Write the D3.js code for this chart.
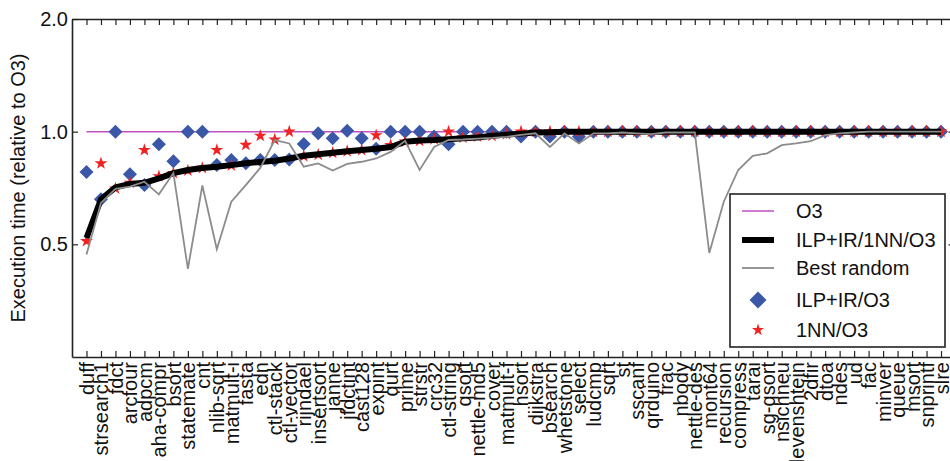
<!DOCTYPE html>
<html>
<head>
<meta charset="utf-8">
<script src="https://cdn.jsdelivr.net/npm/d3@7"></script>
<style>
  body { margin: 0; background: #fff; }
  text { font-family: "Liberation Sans", Arial, sans-serif; fill: #111; }
</style>
</head>
<body>
<div id="chart"></div>
<script>
let benchmarks = ["duff", "strsearch1", "fdct", "arcfour", "adpcm", "aha-compr", "bsort", "statemate", "cnt", "nlib-sqrt",
    "matmult-i", "fasta", "edn", "ctl-stack", "ctl-vector", "rijndael", "insertsort", "janne", "jfdctint", "cast128",
    "expint", "qurt", "prime", "strstr", "crc32", "ctl-string", "qsort", "nettle-md5", "cover", "matmult-f",
    "hsort", "dijkstra", "bsearch", "whetstone", "select", "ludcmp", "sqrt", "st", "sscanf", "qrduino",
    "frac", "nbody", "nettle-des", "mont64", "recursion", "compress", "tarai", "sg-qsort", "nsichneu", "levenshtein",
    "2dfir", "dtoa", "ndes", "ud", "fac", "minver", "queue", "msort", "snprintf", "slre"];

// ILP+IR/O3 (diamonds)
let ilpIr = [0.78, 0.66, 1.0, 0.77, 0.72, 0.925, 0.833, 1.0, 1.0, 0.815,
    0.84, 0.823, 0.84, 0.84, 0.842, 0.927, 0.99, 0.96, 1.005, 0.96,
    0.9, 1.0, 1.0, 1.0, 0.97, 0.925, 1.0, 1.0, 1.0, 1.0,
    0.97, 1.0, 0.97, 1.0, 0.97, 1.0, 1.0, 1.0, 1.0, 1.0,
    1.0, 1.0, 1.0, 1.0, 1.0, 1.0, 1.0, 1.0, 1.0, 1.0,
    1.0, 1.0, 1.0, 1.0, 1.0, 1.0, 1.0, 1.0, 1.0, 1.0];

// 1NN/O3 (stars)
let oneNN = [0.51, 0.823, 0.705, 0.73, 0.893, 0.76, 0.775, 0.787, 0.80, 0.893,
    0.812, 0.922, 0.975, 0.952, 1.0, 0.86, 0.868, 0.878, 0.887, 0.893,
    0.978, 0.92, 0.94, 0.945, 0.955, 1.0, 0.965, 0.97, 0.975, 0.985,
    1.0, 1.0, 1.0, 1.0, 1.0, 1.0, 1.0, 1.0, 1.0, 1.0,
    1.0, 1.0, 1.0, 1.0, 1.0, 1.0, 1.0, 1.0, 1.0, 1.0,
    1.0, 1.0, 1.0, 1.0, 1.0, 1.0, 1.0, 1.0, 1.0, 1.0];

// ILP+IR/1NN/O3 (thick black line)
let combined = [0.52, 0.66, 0.71, 0.725, 0.73, 0.75, 0.775, 0.79, 0.80, 0.806,
    0.814, 0.823, 0.83, 0.836, 0.848, 0.862, 0.87, 0.878, 0.887, 0.893,
    0.90, 0.91, 0.94, 0.947, 0.95, 0.955, 0.96, 0.965, 0.975, 0.982,
    0.988, 0.995, 0.997, 1.0, 1.0, 1.0, 1.0, 1.0, 1.0, 1.0,
    1.0, 1.0, 1.0, 1.0, 1.0, 1.0, 1.0, 1.0, 1.0, 1.0,
    1.0, 1.0, 1.0, 1.0, 1.0, 1.0, 1.0, 1.0, 1.0, 1.0];

// Best random (gray line)
let bestRandom = [0.47, 0.645, 0.703, 0.713, 0.735, 0.68, 0.775, 0.43, 0.718, 0.485,
    0.65, 0.72, 0.80, 0.95, 0.93, 0.806, 0.823, 0.787, 0.82, 0.831,
    0.848, 0.883, 0.945, 0.79, 0.91, 0.95, 0.953, 0.958, 0.962, 0.968,
    0.98, 0.99, 0.91, 0.99, 0.93, 0.99, 0.99, 0.995, 0.99, 0.985,
    0.995, 0.995, 0.995, 0.474, 0.65, 0.79, 0.862, 0.875, 0.92, 0.93,
    0.943, 0.979, 0.99, 0.995, 1.0, 1.0, 1.0, 1.0, 1.0, 1.0];

let yTicks = [0.5, 1.0, 2.0];
let legendNames = ["O3", "ILP+IR/1NN/O3", "Best random", "ILP+IR/O3", "1NN/O3"];

let width = 950, height = 461;
let mLeft = 72, mRight = 955.5, mTop = 19, mBottom = 357;

let svg = d3.select("#chart").append("svg")
    .attr("width", width)
    .attr("height", height);

let x = d3.scalePoint().domain(benchmarks).range([mLeft, mRight]).padding(1);
let y = d3.scaleLog().domain([0.25, 2.0]).range([mBottom, mTop]);

let purple = "#c04fc0", blue = "#3b58a8", red = "#f02222", gray = "#8c8c8c";

// O3 reference line
svg.append("line")
    .attr("x1", x(benchmarks[0])).attr("x2", x(benchmarks[benchmarks.length - 1]))
    .attr("y1", y(1)).attr("y2", y(1))
    .attr("stroke", purple).attr("stroke-width", 1.5);

let diamond = "M0,-7L7,0L0,7L-7,0Z";
svg.append("g").selectAll("path")
    .data(ilpIr)
    .enter()
    .append("path")
    .attr("d", diamond)
    .attr("fill", blue)
    .attr("transform", function (d, i) {
        return "translate(" + x(benchmarks[i]) + "," + y(d) + ")";
    });

let star = d3.symbol().type(d3.symbolStar).size(52);
svg.append("g").selectAll("path")
    .data(oneNN)
    .enter()
    .append("path")
    .attr("d", star)
    .attr("fill", red)
    .attr("transform", function (d, i) {
        return "translate(" + x(benchmarks[i]) + "," + y(d) + ")";
    });

let line = d3.line()
    .x(function (d, i) { return x(benchmarks[i]); })
    .y(function (d) { return y(d); });

svg.append("path")
    .datum(combined)
    .attr("d", line)
    .attr("fill", "none")
    .attr("stroke", "#000")
    .attr("stroke-width", 6)
    .attr("stroke-linejoin", "round");

svg.append("path")
    .datum(bestRandom)
    .attr("d", line)
    .attr("fill", "none")
    .attr("stroke", gray)
    .attr("stroke-width", 1.8);

// axes, matplotlib style: inward ticks on all four sides
let xb = svg.append("g").attr("transform", "translate(0," + mBottom + ")")
    .call(d3.axisBottom(x).tickSizeInner(-6).tickSizeOuter(0).tickPadding(7));
xb.selectAll("text")
    .attr("font-size", "20px")
    .attr("transform", "rotate(-90)")
    .attr("text-anchor", "end")
    .attr("x", -5)
    .attr("y", 0)
    .attr("dy", "0.35em");

let xt = svg.append("g").attr("transform", "translate(0," + mTop + ")")
    .call(d3.axisTop(x).tickSizeInner(-6).tickSizeOuter(0).tickFormat(""));

let yl = svg.append("g").attr("transform", "translate(" + mLeft + ",0)")
    .call(d3.axisLeft(y).tickValues(yTicks).tickFormat(d3.format(".1f"))
        .tickSizeInner(-6).tickSizeOuter(0).tickPadding(4));
yl.selectAll("text").attr("font-size", "20px").attr("x", -4);

let yr = svg.append("g").attr("transform", "translate(" + mRight + ",0)")
    .call(d3.axisRight(y).tickValues(yTicks).tickFormat("").tickSizeInner(-7).tickSizeOuter(0));

[xb, xt, yl, yr].forEach(function (g) {
    g.select(".domain").attr("stroke", "#222").attr("stroke-width", 1.6);
    g.selectAll(".tick line").attr("stroke", "#222").attr("stroke-width", 1.2);
});

svg.append("text")
    .attr("transform", "translate(25," + ((mTop + mBottom) / 2) + ") rotate(-90)")
    .attr("text-anchor", "middle")
    .attr("font-size", "20px")
    .text("Execution time (relative to O3)");

// legend
let legend = svg.append("g");
legend.append("rect")
    .attr("x", 730).attr("y", 194)
    .attr("width", 215).attr("height", 153)
    .attr("fill", "#fff")
    .attr("stroke", "#222")
    .attr("stroke-width", 1.6);

let rowY = [211, 240, 268, 300, 330];
legend.append("line").attr("x1", 742).attr("x2", 774).attr("y1", rowY[0]).attr("y2", rowY[0])
    .attr("stroke", purple).attr("stroke-width", 1.5);
legend.append("line").attr("x1", 742).attr("x2", 774).attr("y1", rowY[1]).attr("y2", rowY[1])
    .attr("stroke", "#000").attr("stroke-width", 6);
legend.append("line").attr("x1", 742).attr("x2", 774).attr("y1", rowY[2]).attr("y2", rowY[2])
    .attr("stroke", gray).attr("stroke-width", 1.8);
legend.append("path").attr("d", "M0,-8.5L8.5,0L0,8.5L-8.5,0Z").attr("fill", blue)
    .attr("transform", "translate(758," + rowY[3] + ")");
legend.append("path").attr("d", d3.symbol().type(d3.symbolStar).size(46)).attr("fill", red)
    .attr("transform", "translate(758," + rowY[4] + ")");

legend.selectAll("text.lab")
    .data(legendNames)
    .enter()
    .append("text")
    .attr("class", "lab")
    .attr("x", 796)
    .attr("y", function (d, i) { return rowY[i]; })
    .attr("dy", "0.35em")
    .attr("font-size", "20px")
    .text(function (d) { return d; });
</script>
</body>
</html>
